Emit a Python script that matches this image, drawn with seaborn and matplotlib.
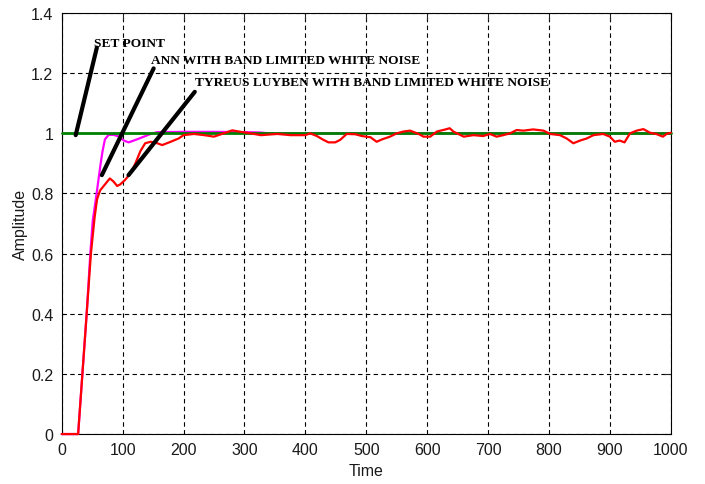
import matplotlib
matplotlib.use("Agg")
import matplotlib.pyplot as plt
import seaborn as sns
import pandas as pd

# ───────────────────────────── data ──────────────────────────────
time_setpoint = [0, 1000]
amp_setpoint = [1.0, 1.0]

# ANN controller response (magenta)
time_ann = [0, 27, 34, 41, 47, 51, 56, 60, 64, 67, 71, 77, 85, 93, 102, 110,
            121, 135, 146, 157, 200, 250, 300, 325, 340, 1000]
amp_ann = [0, 0, 0.2, 0.4, 0.6, 0.71, 0.78, 0.84, 0.9, 0.94, 0.98, 0.995,
           0.995, 0.99, 0.976, 0.97, 0.978, 0.989, 0.998, 1.004, 1.005, 1.005,
           1.004, 1.003, 1.0, 1.0]

# Tyreus-Luyben response (red)
time_tl = [0, 27, 34, 41, 48, 54, 58, 63, 71, 79, 85, 91, 96, 104, 113, 121,
           129, 137, 146, 157, 165, 179, 192, 200, 217, 234, 250, 266, 280,
           294, 310, 327, 354, 376, 400, 408, 419, 430, 438, 449, 457, 468,
           482, 493, 507, 517, 526, 539, 550, 561, 572, 586, 594, 605, 616,
           630, 637, 643, 651, 660, 676, 692, 703, 714, 725, 736, 747, 758,
           774, 791, 802, 818, 829, 840, 851, 862, 873, 889, 900, 908, 916,
           924, 933, 944, 955, 966, 976, 987, 993, 1000]
amp_tl = [0, 0, 0.2, 0.4, 0.6, 0.72, 0.78, 0.81, 0.83, 0.85, 0.84, 0.825,
          0.83, 0.845, 0.867, 0.90, 0.94, 0.967, 0.972, 0.967, 0.961, 0.972,
          0.983, 0.994, 0.998, 0.994, 0.989, 1.0, 1.01, 1.005, 1.0, 0.994,
          0.998, 0.994, 0.994, 1.0, 0.991, 0.978, 0.97, 0.97, 0.978, 0.998,
          0.997, 0.991, 0.987, 0.972, 0.98, 0.989, 1.0, 1.006, 1.009, 0.998,
          0.989, 0.989, 1.006, 1.013, 1.017, 1.006, 0.998, 0.989, 0.994,
          0.991, 0.998, 0.989, 0.994, 1.0, 1.011, 1.009, 1.013, 1.009, 0.998,
          0.994, 0.983, 0.967, 0.976, 0.983, 0.994, 0.998, 0.989, 0.972,
          0.976, 0.97, 1.0, 1.009, 1.014, 1.002, 0.998, 0.989, 0.998, 1.002]

x_ticks = list(range(0, 1001, 100))
y_ticks = [0, 0.2, 0.4, 0.6, 0.8, 1.0, 1.2, 1.4]
y_tick_labels = ["0", "0.2", "0.4", "0.6", "0.8", "1", "1.2", "1.4"]

labels = ["SET POINT",
          "ANN WITH BAND LIMITED WHITE NOISE",
          "TYREUS LUYBEN WITH BAND LIMITED WHITE NOISE"]
label_pos = [(53.7, 1.29), (146.6, 1.233), (218.5, 1.161)]
pointer_from = [(57.7, 1.285), (151, 1.216), (218.5, 1.138)]
pointer_to = [(23, 0.994), (65.9, 0.861), (109.7, 0.861)]

# ──────────────────────────── style ──────────────────────────────
sns.set_style("white")
plt.rcParams["font.family"] = ["Liberation Sans Narrow", "Liberation Sans", "DejaVu Sans"]

fig = plt.figure(figsize=(7.05, 4.85), dpi=100)
ax = fig.add_axes([0.0875, 0.103, 0.864, 0.868])

df_ann = pd.DataFrame({"Time": time_ann, "Amplitude": amp_ann})
df_sp = pd.DataFrame({"Time": time_setpoint, "Amplitude": amp_setpoint})
df_tl = pd.DataFrame({"Time": time_tl, "Amplitude": amp_tl})

sns.lineplot(data=df_ann, x="Time", y="Amplitude", color="#ff00ff", lw=1.6,
             estimator=None, sort=False, ax=ax)
sns.lineplot(data=df_sp, x="Time", y="Amplitude", color="#008000", lw=2.0,
             estimator=None, sort=False, ax=ax)
sns.lineplot(data=df_tl, x="Time", y="Amplitude", color="#ff0000", lw=1.6,
             estimator=None, sort=False, ax=ax)
for ln in ax.lines:
    ln.set_clip_on(False)

# annotations: text + thick black pointer lines
for txt, pos, p0, p1 in zip(labels, label_pos, pointer_from, pointer_to):
    ax.annotate("", xy=p1, xytext=p0,
                arrowprops=dict(arrowstyle="-", color="black", lw=3,
                                shrinkA=0, shrinkB=0))
    ax.text(pos[0], pos[1], txt, family=["Liberation Serif"], weight="bold",
            fontsize=9.6, color="black", va="baseline", ha="left")

ax.set_xlim(0, 1000)
ax.set_ylim(0, 1.4)
ax.set_xticks(x_ticks)
ax.set_yticks(y_ticks)
ax.set_yticklabels(y_tick_labels)
ax.grid(True, color="black", linestyle=(0, (4, 3)), linewidth=0.8)
for s in ax.spines.values():
    s.set_color("black")
    s.set_linewidth(0.8)
    s.set_zorder(1)
ax.tick_params(direction="in", length=5, width=0.8, top=True, right=True,
               labelsize=11.5, labelcolor="#1a1a1a", pad=6)
ax.set_xlabel("Time", fontsize=11.5, color="#1a1a1a", labelpad=4)
ax.set_ylabel("Amplitude", fontsize=11.5, color="#1a1a1a", labelpad=2)

fig.savefig("out.png", dpi=100)
